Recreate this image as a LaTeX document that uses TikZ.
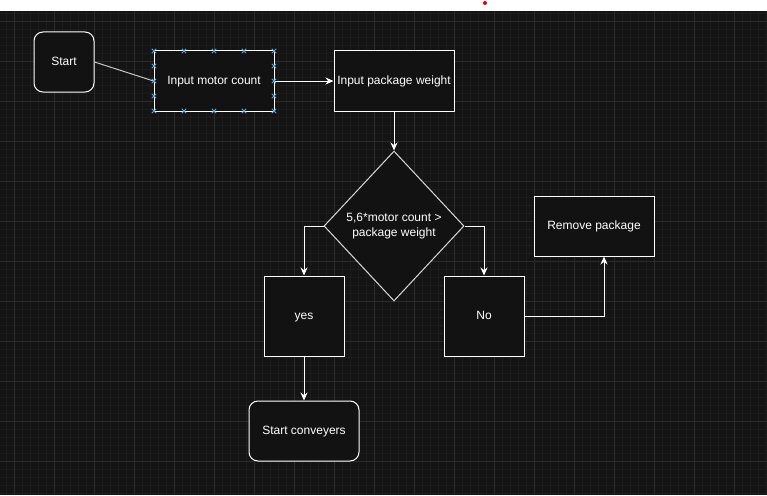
\documentclass[tikz,border=0pt]{standalone}
\usepackage{fontspec}
\setmainfont{Liberation Sans}
\usetikzlibrary{shapes.geometric,arrows.meta}
\definecolor{canvas}{HTML}{141414}
\definecolor{boxfill}{HTML}{121212}
\definecolor{gridmin}{HTML}{1C1C1C}
\definecolor{gridmaj}{HTML}{2B2B2B}
\definecolor{handle}{HTML}{5AA8DC}
\begin{document}
\begin{tikzpicture}[
        x=1pt, y=-1pt,
        line width=1pt,
        font=\fontsize{12}{14}\selectfont
    ]
    \tikzset{
        procbox/.style = {rectangle, draw=white, fill=boxfill, text=white, align=center, inner sep=0pt, text height=8.6pt, text depth=2.6pt},
        termbox/.style = {procbox, rounded corners=9pt},
        decbox/.style = {diamond, draw=white!85!black, fill=boxfill, text=white, align=center, inner sep=0pt, minimum width=140pt, minimum height=150pt, font=\fontsize{12}{15}\selectfont},
        flow/.style = {draw=white, -{Stealth[length=8pt,width=7pt]}},
        plain/.style = {draw=white!78!black},
        gridminor/.style = {draw=gridmin, line width=0.6pt},
        gridmajor/.style = {draw=gridmaj, line width=0.8pt},
        handlemark/.style = {draw=handle, line width=1pt},
    }
    \useasboundingbox (0,0) rectangle (767,495);
    % canvas and grid
    \fill[white] (0,0) rectangle (767,11);
    \fill[canvas] (0,11) rectangle (767,495);
    \foreach \x in {6,14,...,766} \draw[gridminor] (\x,11) -- (\x,495);
    \foreach \y in {13,21,...,493} \draw[gridminor] (0,\y) -- (767,\y);
    \foreach \x in {14,54,...,734} \draw[gridmajor] (\x,11) -- (\x,495);
    \foreach \y in {21,61,...,461} \draw[gridmajor] (0,\y) -- (767,\y);
    \fill[red!90!black] (485,3) circle (2);
    %
    \node[termbox, minimum width=60pt, minimum height=60pt] at (64,62) (start) {Start};
    \node[procbox, minimum width=120pt, minimum height=60pt] at (214,81) (motor) {Input motor count};
    \node[procbox, minimum width=120pt, minimum height=60pt] at (394,81) (weight) {Input package weight};
    \node[decbox] at (394,226) (cond) {5,6*motor count \textgreater\\package weight};
    \node[procbox, minimum width=80pt, minimum height=80pt] at (304,316) (yes) {yes};
    \node[procbox, minimum width=80pt, minimum height=80pt] at (484,316) (no) {No};
    \node[procbox, minimum width=120pt, minimum height=60pt] at (594,226) (remove) {Remove package};
    \node[termbox, minimum width=110pt, minimum height=60pt] at (304,431) (conv) {Start conveyers};
    %
    \draw[plain] (start.east) -- (motor.west);
    \draw[flow] (motor.east) -- (weight.west);
    \draw[flow] (weight.south) -- (cond.north);
    \draw[flow] (cond.west) -| (yes.north);
    \draw[flow] (cond.east) -| (no.north);
    \draw[flow] (no.east) -| ([xshift=10pt]remove.south);
    \draw[flow] (yes.south) -- (conv.north);
    % selection handles
    \foreach \x in {154,184,214,244,274}
        \foreach \y in {51,111}
            \draw[handlemark] (\x-2.2,\y-2.2) -- (\x+2.2,\y+2.2) (\x-2.2,\y+2.2) -- (\x+2.2,\y-2.2);
    \foreach \x in {154,274}
        \foreach \y in {66,81,96}
            \draw[handlemark] (\x-2.2,\y-2.2) -- (\x+2.2,\y+2.2) (\x-2.2,\y+2.2) -- (\x+2.2,\y-2.2);
\end{tikzpicture}
\end{document}
